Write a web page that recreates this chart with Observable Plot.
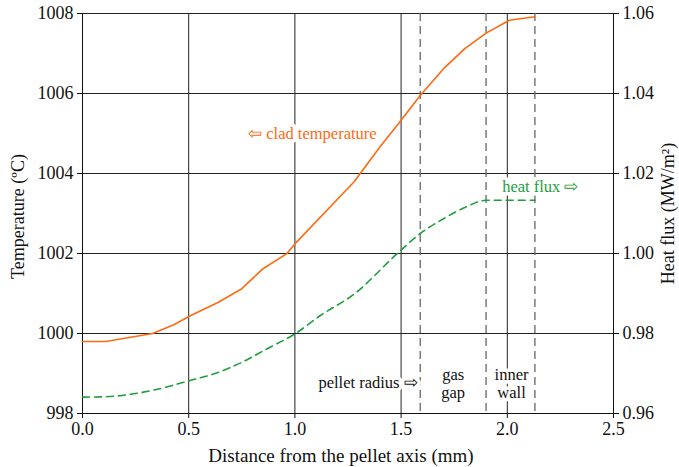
<!DOCTYPE html>
<html>
<head>
<meta charset="utf-8">
<script src="https://cdn.jsdelivr.net/npm/d3@7"></script>
<script src="https://cdn.jsdelivr.net/npm/@observablehq/plot@0.6"></script>
<style>
  html, body { margin: 0; padding: 0; background: #fff; }
</style>
</head>
<body>
<div id="chart"></div>
<script>
// Clad temperature (left axis, °C) vs distance (mm)
const distanceT = [0, 0.11, 0.33, 0.43, 0.51, 0.64, 0.75, 0.85, 0.96, 1.0, 1.28, 1.40, 1.49, 1.59, 1.70, 1.80, 1.90, 2.01, 2.13];
const temperature = [999.8, 999.8, 1000.0, 1000.22, 1000.45, 1000.78, 1001.12, 1001.62, 1001.99, 1002.24, 1003.8, 1004.66, 1005.26, 1005.95, 1006.62, 1007.12, 1007.51, 1007.83, 1007.92];

// Heat flux (right axis, MW/m²) vs distance (mm)
const distanceF = [0, 0.11, 0.33, 0.51, 0.63, 0.75, 0.87, 1.0, 1.12, 1.28, 1.48, 1.59, 1.70, 1.80, 1.90, 2.13];
const heatFlux = [0.9641, 0.9642, 0.9658, 0.9683, 0.9701, 0.9728, 0.9762, 0.9799, 0.9845, 0.9899, 0.9999, 1.0050, 1.0087, 1.0115, 1.0133, 1.0133];

// Region boundaries (mm): pellet radius, end of gas gap, end of inner wall
const boundaries = [1.59, 1.90, 2.13];

// Ticks
const xTicks = [0, 0.5, 1.0, 1.5, 2.0, 2.5];
const tempTicks = [998, 1000, 1002, 1004, 1006, 1008];
const fluxTicks = [0.96, 0.98, 1.00, 1.02, 1.04, 1.06];

// Axis titles
const xTitle = "Distance from the pellet axis (mm)";
const yLeftTitle = "Temperature (ºC)";
const yRightTitle = "Heat flux (MW/m²)";

// Map heat flux onto the temperature scale (0.96..1.06 ↔ 998..1008)
const tMin = 998, tMax = 1008, fMin = 0.96, fMax = 1.06;
const fluxToT = f => tMin + (f - fMin) * (tMax - tMin) / (fMax - fMin);

const tempData = distanceT.map((d, i) => ({x: d, y: temperature[i]}));
const fluxData = distanceF.map((d, i) => ({x: d, y: fluxToT(heatFlux[i])}));

// Annotations (right-aligned and centred)
const endLabels = [
  {x: 1.385, y: 1005.0, text: "⇦ clad temperature", color: "#ff6a10"},
  {x: 2.335, y: fluxToT(1.0168), text: "heat flux ⇨", color: "#1f9e3c"},
  {x: 1.578, y: 998.77, text: "pellet radius ⇨", color: "#111"}
];
const midLabels = [
  {x: 1.745, y: 998.75, text: "gas\ngap", color: "#111"},
  {x: 2.02, y: 998.75, text: "inner\nwall", color: "#111"}
];

const font = "'Liberation Serif', 'Times New Roman', Times, serif";
const orange = "#ff6a10", green = "#1f9e3c";

const chart = Plot.plot({
  width: 679,
  height: 467,
  marginLeft: 82,
  marginRight: 66,
  marginTop: 13,
  marginBottom: 54,
  style: {fontFamily: font, fontSize: "18px", color: "#111", background: "#fff"},
  x: {domain: [0, 2.5]},
  y: {domain: [tMin, tMax]},
  marks: [
    Plot.gridX(xTicks.slice(1, -1), {stroke: "#222", strokeOpacity: 1}),
    Plot.gridY(tempTicks.slice(1), {stroke: "#222", strokeOpacity: 1}),
    Plot.ruleX(boundaries, {stroke: "#666", strokeWidth: 1.3, strokeDasharray: "8,5"}),
    Plot.ruleX([0, 2.5], {stroke: "#111"}),
    Plot.ruleY([tMin], {stroke: "#111"}),
    Plot.axisX({ticks: xTicks, tickFormat: d => d.toFixed(1), tickSize: 5, tickPadding: 4, label: null, fontSize: 18}),
    Plot.axisY({anchor: "left", ticks: tempTicks, tickFormat: d => String(d), tickSize: 5, tickPadding: 4, label: null, fontSize: 18}),
    Plot.axisY({anchor: "right", ticks: fluxTicks.map(fluxToT), tickFormat: (d, i) => fluxTicks[i].toFixed(2),
      tickSize: 5, tickPadding: 4, label: null, fontSize: 18}),
    Plot.text([xTitle], {frameAnchor: "bottom", textAnchor: "middle", dx: -7, dy: 42, lineAnchor: "middle", fontSize: 19, fill: "#111"}),
    Plot.text([yLeftTitle], {frameAnchor: "left", textAnchor: "middle", rotate: -90, dx: -64, dy: 3, lineAnchor: "middle", fontSize: 18, fill: "#111"}),
    Plot.text([yRightTitle], {frameAnchor: "right", textAnchor: "middle", rotate: -90, dx: 55, dy: 0, lineAnchor: "middle", fontSize: 18, fill: "#111"}),
    Plot.text(endLabels, {x: "x", y: "y", text: "text", fill: "color", textAnchor: "end",
      stroke: "#fff", strokeWidth: 7, fontSize: 16.5, lineAnchor: "middle"}),
    Plot.text(midLabels, {x: "x", y: "y", text: "text", fill: "color", textAnchor: "middle",
      stroke: "#fff", strokeWidth: 7, fontSize: 16.5, lineHeight: 1.1, lineAnchor: "middle"}),
    Plot.line(fluxData, {x: "x", y: "y", stroke: green, strokeWidth: 1.6, strokeDasharray: "7,5", curve: "monotone-x"}),
    Plot.line(tempData, {x: "x", y: "y", stroke: orange, strokeWidth: 1.6})
  ]
});

document.getElementById("chart").appendChild(chart);
</script>
</body>
</html>
